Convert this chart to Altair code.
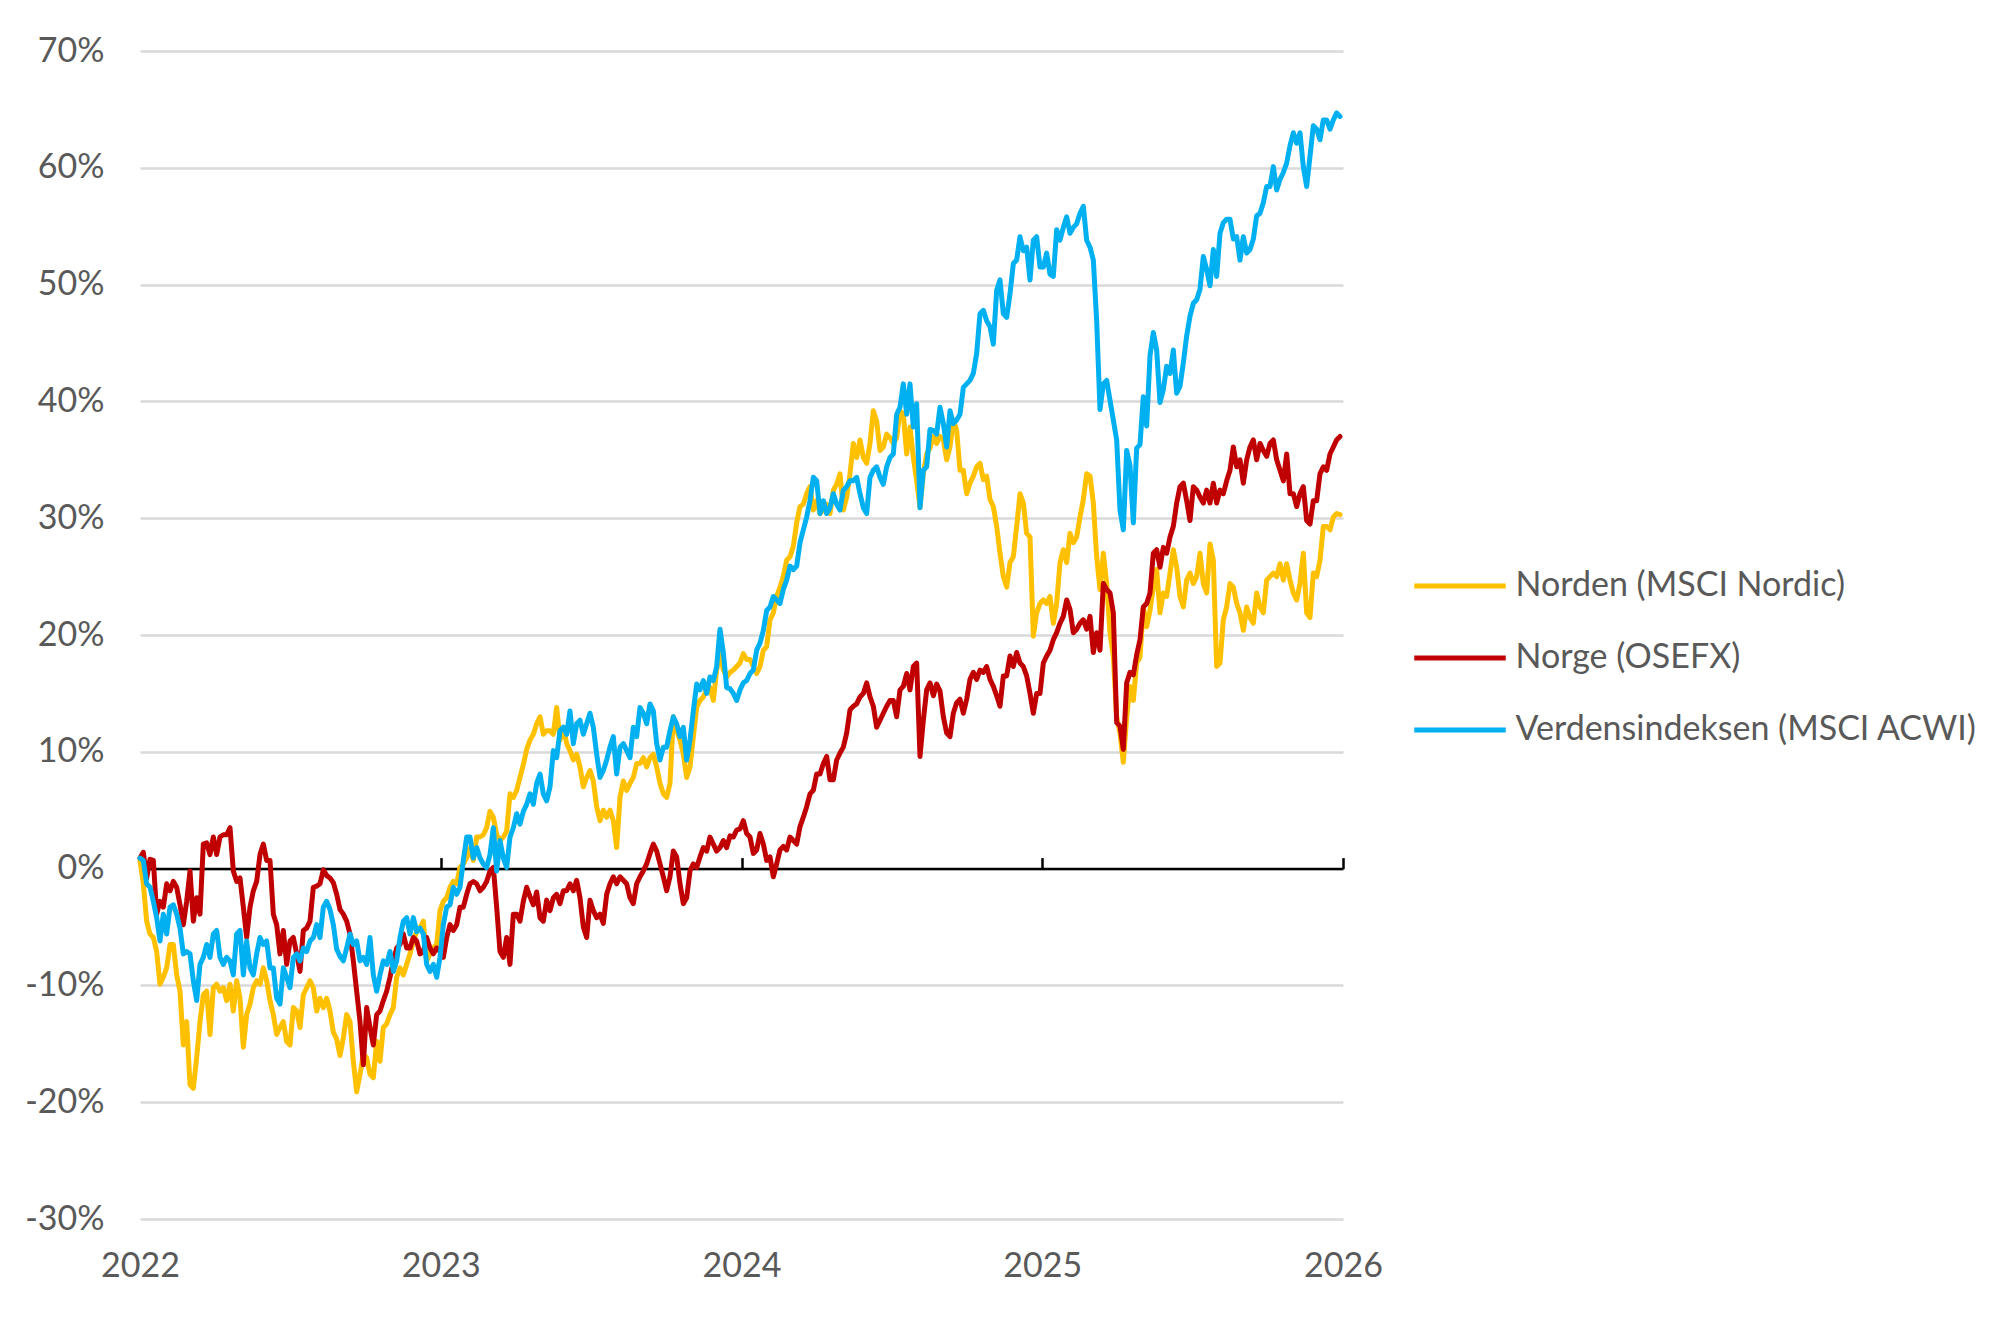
import altair as alt
import pandas as pd

# ---------------- data (~4-day sampling) ----------------
years = [2022, 2023, 2024, 2025, 2026]
y_ticks = [-30, -20, -10, 0, 10, 20, 30, 40, 50, 60, 70]
series_names = ["Norden (MSCI Nordic)", "Norge (OSEFX)", "Verdensindeksen (MSCI ACWI)"]
series_colors = ["#FFC000", "#C00000", "#00B0F0"]
step_years = 4 / 360.9  # spacing of the sampled observations, in years

nordic = [
    0.7, -1.3, -4.5, -5.6, -5.9, -7.1, -9.9, -9.3, -8.5, -6.5,
    -6.5, -9.1, -10.5, -15.1, -13.1, -18.5, -18.8, -16.2, -13.1, -10.8,
    -10.5, -14.2, -10.2, -9.9, -10.5, -10.2, -11.3, -9.9, -12.2, -9.6,
    -11.1, -15.3, -12.5, -11.6, -10.2, -9.6, -9.9, -8.5, -9.6, -11.3,
    -12.5, -14.2, -13.6, -13.1, -14.8, -15.1, -11.9, -12.2, -13.6, -10.8,
    -10.2, -9.6, -10.2, -12.2, -11.1, -11.9, -11.1, -12.2, -14.0, -14.6,
    -16.0, -14.5, -12.5, -13.1, -16.5, -19.1, -17.6, -15.9, -16.2, -17.6,
    -17.9, -14.8, -16.5, -13.6, -13.3, -12.5, -11.9, -9.3, -8.5, -9.1,
    -8.2, -7.3, -6.2, -5.4, -5.1, -4.5, -7.9, -7.3, -6.8, -6.5,
    -3.6, -2.8, -2.5, -1.6, -1.1, -1.3, 0.1, 0.4, 0.9, 1.8,
    0.7, 2.7, 2.7, 2.9, 3.5, 4.9, 4.4, 2.9, 2.4, 2.7,
    3.2, 6.4, 6.1, 6.7, 7.8, 8.9, 10.2, 11.0, 11.5, 12.4,
    13.0, 11.5, 11.8, 11.8, 11.5, 13.8, 11.0, 12.1, 10.7, 10.1,
    9.3, 9.8, 8.7, 7.0, 7.8, 8.4, 7.5, 5.3, 4.1, 5.0,
    4.4, 5.0, 4.1, 1.8, 6.1, 7.5, 6.7, 7.3, 7.8, 9.0,
    9.0, 9.5, 8.7, 9.5, 9.8, 8.7, 7.3, 6.4, 6.1, 7.3,
    13.0, 11.8, 11.0, 9.8, 7.8, 8.7, 11.3, 13.8, 14.4, 14.7,
    15.3, 15.5, 14.4, 17.0, 18.4, 17.0, 16.4, 16.8, 17.0, 17.3,
    17.6, 18.4, 17.9, 17.9, 17.3, 16.7, 17.3, 18.7, 19.0, 21.3,
    21.9, 23.3, 24.1, 25.0, 26.4, 26.7, 27.6, 29.6, 31.0, 31.2,
    32.1, 32.7, 30.7, 31.5, 30.4, 30.7, 31.2, 30.4, 32.4, 32.9,
    33.8, 30.7, 31.8, 33.8, 36.4, 35.2, 36.7, 35.2, 34.7, 36.4,
    39.2, 38.3, 35.8, 36.1, 37.2, 36.9, 36.4, 36.9, 39.2, 38.9,
    35.5, 37.8, 35.2, 33.2, 30.9, 33.8, 35.5, 36.0, 37.0, 36.4,
    37.0, 36.7, 35.0, 36.1, 38.4, 37.5, 34.1, 34.1, 32.1, 33.0,
    33.6, 34.4, 34.7, 33.3, 33.6, 31.6, 31.0, 29.3, 27.0, 25.0,
    24.1, 26.2, 26.7, 29.3, 32.1, 31.3, 28.7, 28.4, 19.9, 21.9,
    22.7, 23.0, 22.7, 23.3, 21.0, 22.7, 26.2, 27.3, 26.2, 28.7,
    27.9, 28.4, 30.1, 31.6, 33.8, 33.6, 31.3, 26.7, 23.9, 27.0,
    24.4, 20.2, 18.2, 13.0, 11.6, 9.1, 13.0, 15.6, 14.4, 17.6,
    18.1, 22.4, 20.7, 22.1, 24.1, 25.6, 21.9, 23.6, 23.3, 25.3,
    27.3, 25.8, 23.3, 22.4, 24.7, 25.3, 24.4, 25.0, 27.0, 24.4,
    23.6, 27.8, 26.4, 17.3, 17.6, 21.3, 22.4, 24.4, 24.1, 22.7,
    21.9, 20.4, 22.4, 21.5, 21.0, 23.6, 22.4, 21.9, 24.7, 25.0,
    25.3, 25.0, 26.1, 24.7, 26.1, 24.7, 23.6, 23.0, 24.4, 27.0,
    21.9, 21.5, 25.3, 25.0, 26.4, 29.3, 29.3, 29.0, 30.1, 30.4, 30.3,
]

norway = [
    0.9, 1.4, -0.8, 0.8, 0.7, -3.9, -2.8, -3.3, -1.3, -1.9,
    -1.1, -1.6, -3.1, -4.8, -2.8, -0.2, -4.5, -2.5, -3.9, 2.1,
    2.2, 1.2, 2.7, 1.2, 2.7, 2.9, 2.9, 3.5, -0.2, -1.1,
    -0.8, -3.3, -5.9, -3.3, -1.9, -1.1, 1.2, 2.1, 0.7, 0.7,
    -3.9, -4.8, -7.3, -5.3, -8.2, -6.2, -5.9, -7.3, -8.8, -5.3,
    -5.1, -4.5, -1.6, -1.5, -1.3, -0.1, -0.6, -0.8, -1.2, -2.2,
    -3.5, -3.9, -4.5, -5.6, -7.9, -10.5, -13.1, -16.8, -11.9, -13.6,
    -15.1, -12.5, -12.2, -11.3, -10.5, -9.3, -7.9, -6.8, -6.5, -5.6,
    -6.8, -6.8, -5.9, -6.2, -7.3, -7.1, -5.9, -6.8, -7.3, -6.8,
    -7.1, -7.6, -5.9, -4.8, -5.3, -4.8, -3.3, -3.3, -2.2, -1.3,
    -1.1, -1.3, -1.9, -1.6, -1.1, -0.2, 0.1, -3.3, -7.1, -7.6,
    -5.9, -8.2, -3.9, -3.9, -4.5, -2.8, -1.6, -2.4, -3.1, -2.0,
    -4.2, -4.5, -2.7, -3.6, -2.5, -2.2, -3.0, -1.9, -1.9, -1.3,
    -1.9, -1.0, -2.5, -5.0, -5.9, -2.7, -3.6, -4.2, -3.9, -4.7,
    -2.2, -1.3, -0.7, -1.3, -0.7, -1.0, -1.3, -2.5, -3.0, -1.3,
    -0.7, -0.2, 0.4, 1.3, 2.1, 1.5, 0.4, -0.7, -1.9, -0.7,
    1.5, 1.0, -1.3, -3.0, -2.5, -0.2, 0.4, 0.1, 1.0, 1.8,
    1.5, 2.7, 2.1, 1.5, 1.8, 2.4, 1.8, 2.8, 2.7, 3.3,
    3.4, 4.1, 3.0, 2.7, 1.3, 1.6, 3.0, 2.1, 0.7, 1.0,
    -0.7, 0.4, 1.6, 1.9, 1.6, 2.7, 2.4, 2.1, 3.6, 4.4,
    5.3, 6.4, 6.7, 8.1, 8.1, 9.0, 9.6, 7.6, 7.6, 9.3,
    9.9, 10.4, 11.6, 13.6, 13.9, 14.1, 14.7, 15.0, 15.9, 14.7,
    13.9, 12.1, 12.7, 13.3, 13.9, 14.4, 14.4, 13.0, 15.3, 15.6,
    16.7, 15.3, 17.3, 17.6, 9.6, 12.7, 15.3, 15.9, 14.8, 15.8,
    15.2, 13.0, 11.6, 11.3, 13.3, 14.2, 14.5, 13.3, 14.5, 16.2,
    16.8, 16.2, 17.0, 16.8, 17.3, 16.2, 15.6, 14.8, 13.9, 16.5,
    16.5, 18.2, 17.3, 18.5, 17.6, 17.3, 16.5, 15.0, 13.3, 15.0,
    15.0, 17.6, 18.2, 18.7, 19.6, 20.2, 21.0, 21.6, 23.0, 22.2,
    20.2, 20.5, 21.0, 21.3, 20.5, 21.6, 18.5, 20.2, 18.7, 24.4,
    23.9, 23.6, 21.9, 12.5, 12.2, 10.2, 15.9, 16.8, 16.6, 18.3,
    19.6, 22.4, 22.7, 23.6, 27.0, 27.3, 25.8, 27.5, 27.0, 28.4,
    29.3, 31.3, 32.7, 33.0, 31.5, 29.8, 32.7, 32.4, 31.8, 31.3,
    32.4, 31.3, 33.0, 31.3, 32.4, 32.1, 33.2, 34.1, 36.1, 34.4,
    35.0, 33.0, 35.0, 36.1, 36.7, 35.0, 36.4, 35.8, 35.3, 36.4,
    36.7, 35.0, 34.1, 33.2, 35.5, 32.1, 32.1, 31.0, 32.1, 32.7,
    29.8, 29.5, 31.5, 31.5, 33.8, 34.4, 34.1, 35.5, 36.1, 36.7, 37.0,
]

world = [
    0.9, 0.7, -1.3, -1.6, -2.8, -4.2, -6.2, -3.9, -5.6, -3.3,
    -3.1, -3.9, -5.1, -7.3, -7.1, -7.3, -9.6, -11.3, -8.2, -7.6,
    -6.5, -7.6, -5.6, -5.3, -7.6, -8.2, -7.6, -7.9, -9.1, -5.6,
    -5.3, -9.1, -6.2, -8.5, -9.1, -7.3, -5.9, -6.5, -6.2, -8.5,
    -8.5, -11.1, -11.6, -8.5, -9.3, -10.2, -7.6, -7.3, -7.9, -6.8,
    -7.1, -6.2, -5.9, -4.8, -5.9, -3.3, -2.8, -3.5, -4.8, -6.9,
    -7.5, -7.9, -6.8, -5.6, -6.5, -6.2, -7.9, -7.6, -8.2, -5.9,
    -9.1, -10.5, -9.1, -7.9, -8.2, -7.1, -8.8, -7.9, -5.9, -4.5,
    -4.2, -5.6, -4.2, -5.4, -5.1, -5.6, -8.2, -8.8, -8.2, -9.3,
    -7.6, -4.8, -3.3, -3.1, -1.6, -2.2, -1.6, 0.7, 2.7, 2.7,
    0.9, 1.8, 0.9, 0.4, 0.1, 1.2, 3.5, -0.2, 2.4, 0.9,
    0.1, 2.7, 3.5, 4.7, 3.8, 4.9, 5.5, 6.4, 5.5, 7.3,
    8.1, 6.4, 5.8, 7.0, 10.1, 9.5, 11.8, 12.1, 11.5, 13.5,
    10.7, 12.4, 12.7, 11.5, 12.4, 13.3, 12.1, 9.8, 7.8, 8.4,
    9.3, 10.4, 11.3, 8.1, 10.4, 10.7, 10.1, 9.5, 12.1, 11.3,
    13.8, 13.3, 12.4, 14.1, 13.5, 10.7, 9.3, 10.4, 10.4, 11.8,
    13.0, 12.4, 11.3, 12.1, 9.3, 11.0, 13.5, 15.8, 15.3, 16.1,
    15.0, 16.4, 16.1, 17.3, 20.5, 18.5, 15.5, 15.4, 15.0, 14.4,
    15.3, 15.9, 16.1, 16.7, 17.0, 18.7, 19.3, 20.4, 22.1, 22.4,
    23.3, 23.0, 22.7, 23.9, 24.7, 25.9, 25.6, 25.9, 27.9, 29.0,
    30.1, 31.5, 33.5, 33.2, 30.4, 31.5, 30.4, 30.9, 32.1, 31.2,
    30.7, 32.4, 32.7, 33.2, 33.2, 33.5, 32.1, 30.9, 30.4, 33.5,
    34.1, 34.4, 33.5, 32.9, 34.4, 35.2, 35.5, 38.9, 39.5, 41.5,
    38.9, 41.5, 37.8, 39.8, 30.9, 34.1, 34.4, 37.6, 37.5, 37.2,
    39.5, 38.1, 36.1, 39.2, 38.1, 38.4, 38.9, 41.2, 41.5, 41.8,
    42.4, 44.1, 47.5, 47.8, 46.9, 46.4, 44.9, 49.5, 50.4, 47.5,
    47.2, 49.2, 51.8, 52.1, 54.1, 52.9, 53.2, 50.4, 53.8, 54.1,
    51.5, 51.5, 52.7, 50.9, 50.7, 54.7, 53.8, 54.9, 55.8, 54.4,
    54.9, 55.2, 56.1, 56.7, 53.8, 53.2, 52.1, 46.9, 39.3, 41.5,
    41.8, 40.1, 38.4, 36.7, 30.7, 29.0, 35.8, 34.5, 29.6, 36.0,
    36.3, 40.4, 37.9, 43.9, 45.9, 44.4, 39.9, 41.0, 43.0, 42.4,
    44.4, 40.7, 41.3, 43.3, 45.6, 47.3, 48.4, 48.7, 49.6, 52.4,
    51.3, 49.9, 53.0, 50.7, 54.4, 55.3, 55.6, 55.6, 53.9, 54.1,
    52.1, 54.1, 52.7, 53.0, 53.9, 55.9, 56.1, 57.0, 58.4, 58.4,
    60.1, 58.1, 59.0, 59.6, 60.4, 61.9, 63.0, 62.1, 63.0, 60.1,
    58.4, 61.0, 63.6, 63.3, 62.4, 64.1, 64.1, 63.3, 64.1, 64.7, 64.4,
]

# ---------------- table ----------------
rows = []
for name, vals in zip(series_names, [nordic, norway, world]):
    for i, v in enumerate(vals):
        rows.append({"t": 2022 + i * step_years, "v": v, "series": name, "idx": i})
df = pd.DataFrame(rows)
years_df = pd.DataFrame({"year": years})

FONT = "Lato"
TEXT = "#595959"
PLOT_W, PLOT_H = 1203, 1168
ZERO_PX = PLOT_H * y_ticks[-1] / (y_ticks[-1] - y_ticks[0])  # pixel row of 0 %

x_scale = alt.Scale(domain=[years[0], years[-1]], nice=False, zero=False)
y_scale = alt.Scale(domain=[y_ticks[0], y_ticks[-1]], nice=False, zero=False)

lines = alt.Chart(df).mark_line(
    strokeWidth=5, strokeCap="round", strokeJoin="round"
).encode(
    x=alt.X(
        "t:Q",
        scale=x_scale,
        axis=alt.Axis(
            values=years, format="d", grid=False, domain=False, ticks=False,
            labelPadding=30, labelFontSize=34, labelFont=FONT, labelColor=TEXT,
            labelFlush=False, labelOverlap=False, title=None,
        ),
    ),
    y=alt.Y(
        "v:Q",
        scale=y_scale,
        axis=alt.Axis(
            values=y_ticks, labelExpr="datum.value + '%'", grid=True,
            gridColor="#d9d9d9", gridWidth=2.5, domain=False, ticks=False,
            tickSize=0, labelPadding=36, labelFontSize=34, labelFont=FONT,
            labelColor=TEXT, title=None,
        ),
    ),
    color=alt.Color(
        "series:N",
        scale=alt.Scale(domain=series_names, range=series_colors),
        legend=alt.Legend(
            title=None, orient="none", legendX=1271.5, legendY=515,
            direction="vertical", symbolType="stroke", symbolSize=8372,
            symbolStrokeWidth=5, labelFontSize=34, labelFont=FONT,
            labelColor=TEXT, labelOffset=7, labelLimit=700, clipHeight=40,
            rowPadding=32, padding=0,
        ),
    ),
    order="idx:Q",
)

# zero line with upward year ticks (Excel style axis crossing at 0%)
zero_axis = alt.Chart(years_df).mark_point(opacity=0).encode(
    x=alt.X(
        "year:Q",
        scale=x_scale,
        axis=alt.Axis(
            orient="top", offset=-ZERO_PX, values=years,
            labels=False, grid=False, domain=True, domainColor="black",
            domainWidth=2.5, ticks=True, tickColor="black", tickWidth=2.5,
            tickSize=11, title=None,
        ),
    ),
)

chart = (
    alt.layer(lines, zero_axis)
    .resolve_axis(x="independent")
    .properties(
        width=PLOT_W,
        height=PLOT_H,
        padding={"left": 132, "top": 43, "right": 660, "bottom": 91},
        autosize=alt.AutoSizeParams(type="none"),
        background="white",
    )
    .configure_view(stroke="transparent")
)

chart.save("out.html", embed_options={"renderer": "svg", "actions": False})
